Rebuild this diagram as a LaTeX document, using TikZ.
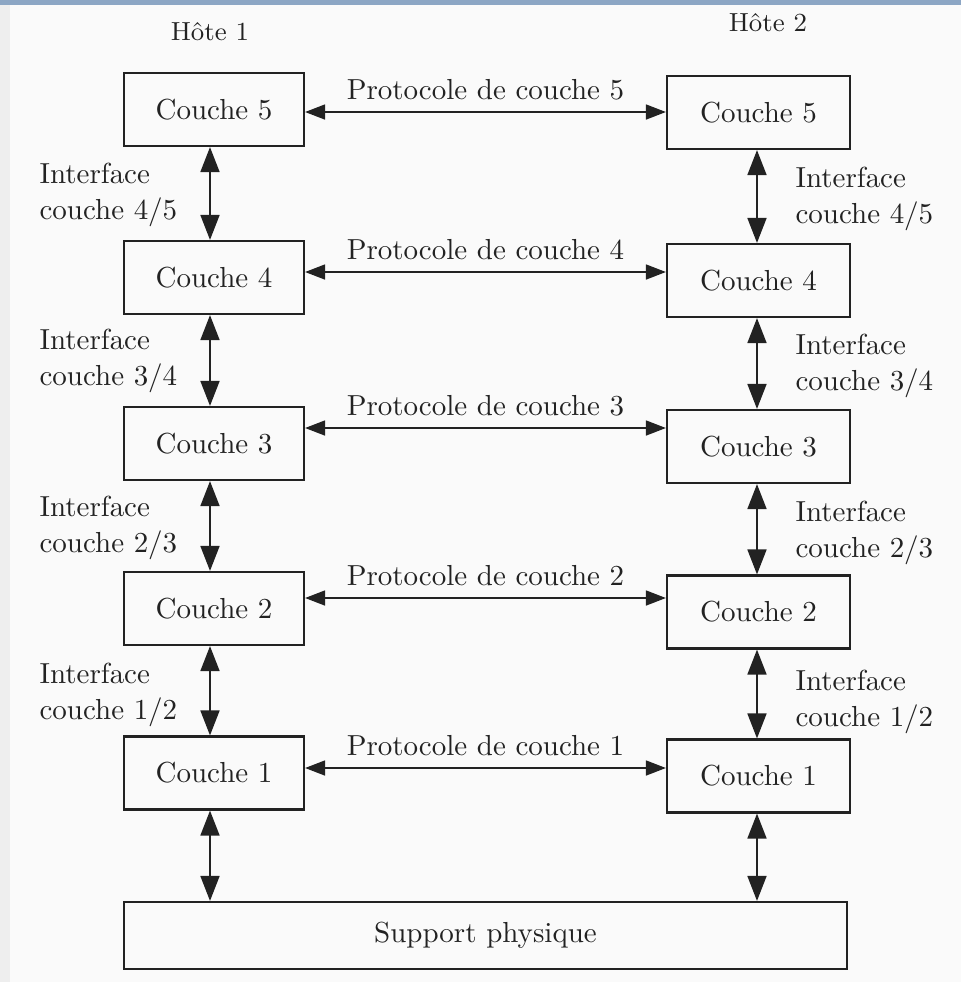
\documentclass[tikz,border=0pt]{standalone}
\usetikzlibrary{arrows.meta}
\definecolor{ink}{HTML}{222222}
\definecolor{bgc}{HTML}{FAFAFA}
\definecolor{leftc}{HTML}{EEEEEE}
\definecolor{topc}{HTML}{8CA6C4}
\def\pxu{0.345}
\begin{document}
\begin{tikzpicture}[x=\pxu pt,y=-\pxu pt]
\tikzset{
  txt/.style={font=\fontsize{10}{12.4}\selectfont, text=ink, inner sep=0pt},
  box/.style={txt, draw=ink, line width=2.2*\pxu pt, minimum width=180*\pxu pt, minimum height=73*\pxu pt},
  rbox/.style={box, minimum width=183*\pxu pt},
  iface/.style={txt, align=left, anchor=west},
  host/.style={txt, font=\fontsize{9}{11}\selectfont},
  harr/.style={draw=ink, line width=1.6*\pxu pt, {Triangle[length=20*\pxu pt,width=15*\pxu pt]}-{Triangle[length=20*\pxu pt,width=15*\pxu pt]}},
  varr/.style={draw=ink, line width=1.8*\pxu pt, {Triangle[length=25*\pxu pt,width=19*\pxu pt]}-{Triangle[length=25*\pxu pt,width=19*\pxu pt]}},
  plabel/.style={txt, anchor=base, yshift=13*\pxu pt}
}
\useasboundingbox (0,0) rectangle (961,982);
\fill[bgc] (0,0) rectangle (961,982);
\fill[leftc] (0,0) rectangle (10,982);
\fill[topc] (0,0) rectangle (961,5);

% hosts
\node[host] (h1) at (210,32) {Hôte 1};
\node[host] (h2) at (768,23) {Hôte 2};

% left column
\node[box] (L5) at (214,109.5) {Couche 5};
\node[box] (L4) at (214,277.5) {Couche 4};
\node[box] (L3) at (214,443.5) {Couche 3};
\node[box] (L2) at (214,608.5) {Couche 2};
\node[box] (L1) at (214,773) {Couche 1};

% right column
\node[rbox] (R5) at (758.5,112.5) {Couche 5};
\node[rbox] (R4) at (758.5,280.5) {Couche 4};
\node[rbox] (R3) at (758.5,446.5) {Couche 3};
\node[rbox] (R2) at (758.5,612) {Couche 2};
\node[rbox] (R1) at (758.5,776) {Couche 1};

% support
\node[box, minimum width=723*\pxu pt, minimum height=67*\pxu pt] (S) at (485.5,935.5) {Support physique};

% protocol arrows
\draw[harr] ([yshift=-2.5*\pxu pt]L5.east) -- node[plabel] {Protocole de couche 5} ([yshift=-2.5*\pxu pt]L5.east -| R5.west);
\draw[harr] ([yshift=5.5*\pxu pt]L4.east) -- node[plabel] {Protocole de couche 4} ([yshift=5.5*\pxu pt]L4.east -| R4.west);
\draw[harr] ([yshift=15.5*\pxu pt]L3.east) -- node[plabel] {Protocole de couche 3} ([yshift=15.5*\pxu pt]L3.east -| R3.west);
\draw[harr] ([yshift=10.5*\pxu pt]L2.east) -- node[plabel] {Protocole de couche 2} ([yshift=10.5*\pxu pt]L2.east -| R2.west);
\draw[harr] ([yshift=5*\pxu pt]L1.east) -- node[plabel] {Protocole de couche 1} ([yshift=5*\pxu pt]L1.east -| R1.west);

% left interface arrows
\draw[varr] ([xshift=-4*\pxu pt]L5.south) -- ([xshift=-4*\pxu pt]L4.north);
\draw[varr] ([xshift=-4*\pxu pt]L4.south) -- ([xshift=-4*\pxu pt]L3.north);
\draw[varr] ([xshift=-4*\pxu pt]L3.south) -- ([xshift=-4*\pxu pt]L2.north);
\draw[varr] ([xshift=-4*\pxu pt]L2.south) -- ([xshift=-4*\pxu pt]L1.north);
\draw[varr] ([xshift=-4*\pxu pt]L1.south) -- ([xshift=-4*\pxu pt]L1.south |- S.north);

% right interface arrows
\draw[varr] ([xshift=-1.5*\pxu pt]R5.south) -- ([xshift=-1.5*\pxu pt]R4.north);
\draw[varr] ([xshift=-1.5*\pxu pt]R4.south) -- ([xshift=-1.5*\pxu pt]R3.north);
\draw[varr] ([xshift=-1.5*\pxu pt]R3.south) -- ([xshift=-1.5*\pxu pt]R2.north);
\draw[varr] ([xshift=-1.5*\pxu pt]R2.south) -- ([xshift=-1.5*\pxu pt]R1.north);
\draw[varr] ([xshift=-1.5*\pxu pt]R1.south) -- ([xshift=-1.5*\pxu pt]R1.south |- S.north);

% interface labels
\node[iface] (i45l) at (39,195) {Interface\\couche 4/5};
\node[iface] (i34l) at (39,361) {Interface\\couche 3/4};
\node[iface] (i23l) at (39,527.5) {Interface\\couche 2/3};
\node[iface] (i12l) at (39,695) {Interface\\couche 1/2};
\node[iface] (i45r) at (795,199) {Interface\\couche 4/5};
\node[iface] (i34r) at (795,366) {Interface\\couche 3/4};
\node[iface] (i23r) at (795,532.5) {Interface\\couche 2/3};
\node[iface] (i12r) at (795,702) {Interface\\couche 1/2};
\end{tikzpicture}
\end{document}
